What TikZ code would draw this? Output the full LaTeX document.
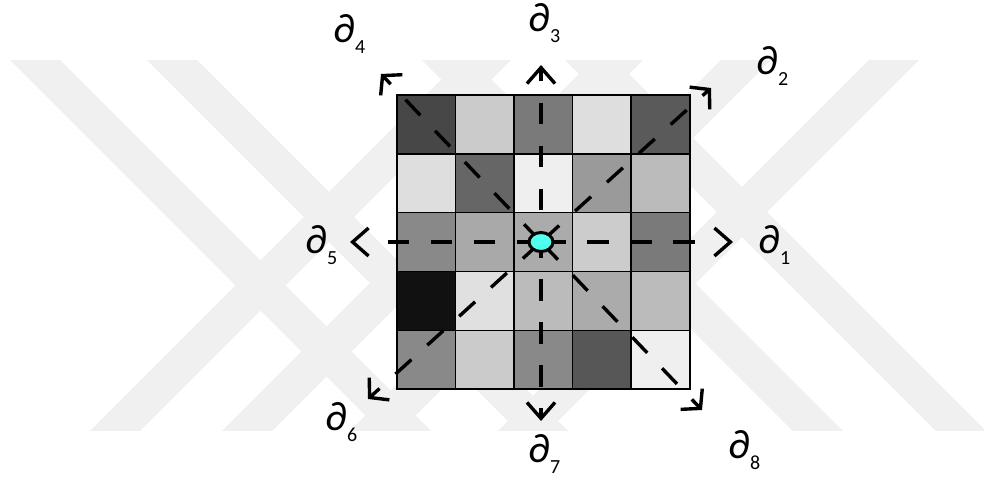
\documentclass[tikz,border=0pt]{standalone}
\usepackage{fontspec}
\setmainfont{Carlito}
\usetikzlibrary{arrows.meta,shapes.geometric}
\definecolor{wm}{RGB}{240,240,240}
\definecolor{cy}{RGB}{80,255,240}
\newcommand\dlab[1]{∂\raisebox{-11.5pt}{\fontsize{20}{22}\selectfont #1}}
\begin{document}
\begin{tikzpicture}[x=1pt,y=-1pt,
  wmline/.style={draw=wm,line width=35.4pt},
  cellbox/.style={draw=black,line width=1.3pt},
  ray/.style={line width=3.4pt,dash pattern=on 21.5pt off 21.5pt,dash phase=40pt},
  hray/.style={line width=3.4pt,dash pattern=on 21.5pt off 21.5pt on 21.5pt off 21.5pt on 21.5pt off 21.5pt on 21.5pt off 21.5pt on 21.5pt off 60pt,dash phase=40pt},
  hvtip/.style={-{Straight Barb[length=16pt,width=28pt]}},
  dgtip/.style={-{Straight Barb[length=13pt,width=30pt]}},
  lab/.style={anchor=base west,inner sep=0pt,font=\fontsize{41}{45}\selectfont},
]
\useasboundingbox (0,0) rectangle (984,482);
% watermark
\begin{scope}
  \clip (0,60) rectangle (984,430);
  \foreach \a in {35,172,447,590} \draw[wmline] ({\a-20},40) -- ({\a+390},450);
  \foreach \b in {486,618,746,894} \draw[wmline] ({\b+20},40) -- ({\b-390},450);
\end{scope}
% grid
\foreach \r/\row in {0/{71,203,122,222,90},1/{222,102,239,154,187},2/{137,169,171,204,122},3/{17,224,187,171,187},4/{137,203,137,87,239}}{
  \foreach \g [count=\c from 0] in \row {
    \filldraw[cellbox,fill={rgb,255:red,\g;green,\g;blue,\g}] ({397+\c*58.5},{95+\r*58.85}) rectangle +(58.5,58.85);
  }
}
\draw[line width=2pt] (397,95) rectangle (689.5,389.25);
% rays
\coordinate (o) at (541,242);
\coordinate (t1) at (733,242);
\coordinate (t2) at (711,88);
\coordinate (t3) at (541,65);
\coordinate (t4) at (381,74);
\coordinate (t5) at (350,242);
\coordinate (t6) at (368,399);
\coordinate (t7) at (541,421);
\coordinate (t8) at (702,410);
\draw[hray,hvtip] (o) -- (t1);
\draw[hray,hvtip] (o) -- (t5);
\draw[ray,dash phase=11pt,hvtip] (o) -- (t3);
\draw[ray,dash phase=6pt,hvtip] (o) -- (t7);
\draw[ray,dgtip] (o) -- (t2);
\draw[ray,dgtip] (o) -- (t4);
\draw[ray,dgtip] (o) -- (t6);
\draw[ray,dgtip] (o) -- (t8);
\node[ellipse,draw,line width=3pt,fill=cy,minimum width=24pt,minimum height=19pt,inner sep=0pt] (c) at (o) {};
% labels
\node[lab] (l1) at (758,253) {\dlab{1}};
\node[lab] (l2) at (756,74) {\dlab{2}};
\node[lab] (l3) at (528,31) {\dlab{3}};
\node[lab] (l4) at (333,42) {\dlab{4}};
\node[lab] (l5) at (305,253) {\dlab{5}};
\node[lab] (l6) at (325,430) {\dlab{6}};
\node[lab] (l7) at (528,462) {\dlab{7}};
\node[lab] (l8) at (728,458) {\dlab{8}};
\end{tikzpicture}
\end{document}
